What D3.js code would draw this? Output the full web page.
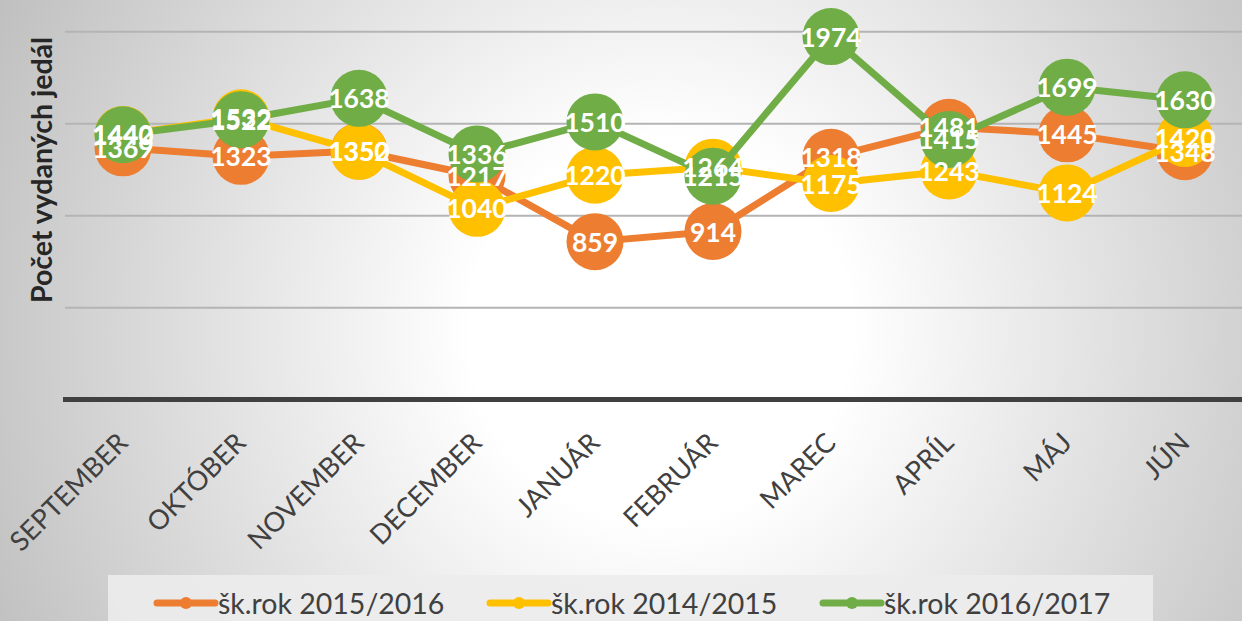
<!DOCTYPE html>
<html>
<head>
<meta charset="utf-8">
<script src="https://cdn.jsdelivr.net/npm/d3@7/dist/d3.min.js"></script>
<style>
  html, body { margin: 0; padding: 0; background: #fff; }
  svg { display: block; }
</style>
</head>
<body>
<svg id="chart" width="1242" height="621"></svg>
<script>
const categories = ["SEPTEMBER","OKTÓBER","NOVEMBER","DECEMBER","JANUÁR","FEBRUÁR","MAREC","APRÍL","MÁJ","JÚN"];
const values2015 = [1369, 1323, 1352, 1217, 859, 914, 1318, 1481, 1445, 1348];
const values2014 = [1442, 1532, 1350, 1040, 1220, 1264, 1175, 1243, 1124, 1420];
const values2016 = [1440, 1522, 1638, 1336, 1510, 1215, 1974, 1415, 1699, 1630];
const seriesNames = ["šk.rok 2015/2016", "šk.rok 2014/2015", "šk.rok 2016/2017"];
const seriesColors = ["#ED7D31", "#FFC000", "#70AD47"];
const yTicks = [0, 500, 1000, 1500, 2000];
const yTitle = "Počet vydaných jedál";

const W = 1242, H = 621;
const svg = d3.select("#chart");

// background radial gradient
const defs = svg.append("defs");
const grad = defs.append("radialGradient").attr("id", "bg")
  .attr("gradientUnits", "userSpaceOnUse")
  .attr("cx", 660).attr("cy", 330).attr("r", 760);
grad.append("stop").attr("offset", "0%").attr("stop-color", "#ffffff");
grad.append("stop").attr("offset", "25%").attr("stop-color", "#ffffff");
grad.append("stop").attr("offset", "100%").attr("stop-color", "#bdbdbd");
svg.append("rect").attr("width", W).attr("height", H).attr("fill", "url(#bg)");

const x = d3.scalePoint().domain(categories).range([64, 1244]).padding(0.5);
const y = d3.scaleLinear().domain([0, 2000]).range([399.6, 31.8]);

// gridlines
svg.append("g").selectAll("line").data(yTicks.filter(d => d > 0)).join("line")
  .attr("x1", 65).attr("x2", W)
  .attr("y1", d => y(d)).attr("y2", d => y(d))
  .attr("stroke", "#b4b4b4").attr("stroke-width", 2);

// x axis line
svg.append("line").attr("x1", 63).attr("x2", W)
  .attr("y1", y(0)).attr("y2", y(0))
  .attr("stroke", "#404040").attr("stroke-width", 5);

// x labels
svg.append("g").selectAll("text").data(categories).join("text")
  .attr("transform", d => `translate(${x(d) - 1},437) rotate(-45)`)
  .attr("text-anchor", "end")
  .attr("dominant-baseline", "central")
  .attr("font-family", "Lato, 'Open Sans', sans-serif")
  .attr("font-size", 27)
  .attr("fill", "#404040")
  .text(d => d);

// y title
svg.append("text")
  .attr("transform", "translate(52,170) rotate(-90)")
  .attr("text-anchor", "middle")
  .attr("font-family", "Lato, 'Open Sans', sans-serif")
  .attr("font-weight", "bold")
  .attr("font-size", 28.5)
  .attr("fill", "#262626")
  .text(yTitle);

const allSeries = [values2015, values2014, values2016].map((vals, i) => ({
  name: seriesNames[i], color: seriesColors[i],
  points: categories.map((c, j) => ({ c, v: vals[j] }))
}));

const line = d3.line().x(d => x(d.c)).y(d => y(d.v));

allSeries.forEach(s => {
  const g = svg.append("g");
  g.append("path").attr("d", line(s.points))
    .attr("fill", "none").attr("stroke", s.color)
    .attr("stroke-width", 7).attr("stroke-linejoin", "round");
  g.selectAll("circle").data(s.points).join("circle")
    .attr("cx", d => x(d.c)).attr("cy", d => y(d.v)).attr("r", 28.5)
    .attr("fill", s.color);
});

// data labels
allSeries.forEach(s => {
  svg.append("g").selectAll("text").data(s.points).join("text")
    .attr("x", d => x(d.c)).attr("y", d => y(d.v))
    .attr("text-anchor", "middle")
    .attr("dominant-baseline", "central")
    .attr("font-family", "Lato, 'Open Sans', sans-serif")
    .attr("font-weight", "bold")
    .attr("font-size", 26.5)
    .attr("fill", "#ffffff")
    .text(d => d.v);
});

// legend
svg.append("rect").attr("x", 108).attr("y", 575).attr("width", 1045).attr("height", 60)
  .attr("fill", "#ececec").attr("opacity", 0.9);
const lg = svg.append("g").selectAll("g").data(allSeries).join("g")
  .attr("transform", (d, i) => `translate(${157 + i * 333},603)`);
lg.append("line").attr("x1", 0).attr("x2", 58).attr("y1", 0).attr("y2", 0)
  .attr("stroke", d => d.color).attr("stroke-width", 7).attr("stroke-linecap", "round");
lg.append("circle").attr("cx", 29).attr("cy", 0).attr("r", 6).attr("fill", d => d.color);
lg.append("text").attr("x", 61).attr("y", 0)
  .attr("dominant-baseline", "central")
  .attr("font-family", "Lato, 'Open Sans', sans-serif")
  .attr("font-size", 28.5)
  .attr("fill", "#404040")
  .text(d => d.name);
</script>
</body>
</html>
